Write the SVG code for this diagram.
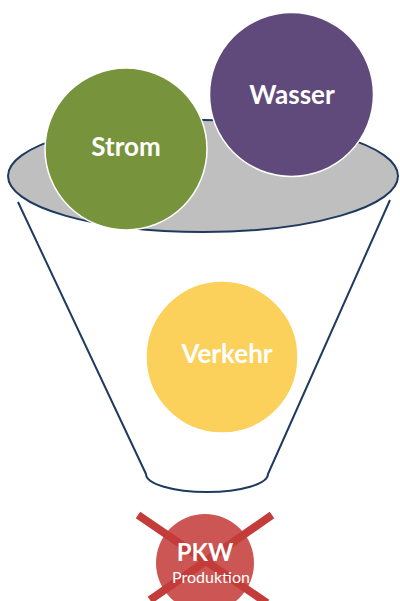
<svg xmlns="http://www.w3.org/2000/svg" width="400" height="601" viewBox="0 0 400 601">
  <style>
    .funnel { fill: none; stroke: #1F3A5F; stroke-width: 2; stroke-linejoin: round; }
    .rim { fill: #BFBFBF; stroke: #1F3A5F; stroke-width: 2; }
    .ball { stroke: #FFFFFF; stroke-width: 1.5; }
    .lbl { font-family: Lato, "Open Sans", "Liberation Sans", sans-serif; font-weight: bold; fill: #FFFFFF; text-anchor: middle; }
    .sub { font-family: Lato, "Open Sans", "Liberation Sans", sans-serif; font-weight: normal; fill: #FFFFFF; text-anchor: middle; }
    .cross { stroke: #C43C39; stroke-width: 8; stroke-linecap: butt; }
  </style>

  <!-- funnel body -->
  <g id="funnel">
    <path class="funnel" d="M18,202 L146,474 A61,18 0 0 0 268,474 L390,200"/>
    <ellipse class="rim" cx="203" cy="176" rx="195" ry="56"/>
  </g>

  <g id="strom">
    <circle class="ball" cx="126" cy="149" r="81" fill="#77933C"/>
    <text class="lbl" x="126" y="156" font-size="26">Strom</text>
  </g>

  <g id="wasser">
    <circle class="ball" cx="291.5" cy="94.5" r="82" fill="#604A7B"/>
    <text class="lbl" x="292" y="104" font-size="26">Wasser</text>
  </g>

  <g id="verkehr">
    <circle class="ball" cx="222" cy="357" r="76" fill="#FCD15B"/>
    <text class="lbl" x="227" y="363" font-size="26">Verkehr</text>
  </g>

  <!-- crossed-out production -->
  <g id="pkw">
    <circle cx="205" cy="563" r="49" fill="#CB5653"/>
    <line class="cross" x1="138" y1="515" x2="267" y2="603"/>
    <line class="cross" x1="272" y1="515" x2="150" y2="600"/>
    <text class="lbl" x="205" y="561" font-size="24">PKW</text>
    <text class="sub" x="211" y="583" font-size="16">Produktion</text>
  </g>
</svg>
